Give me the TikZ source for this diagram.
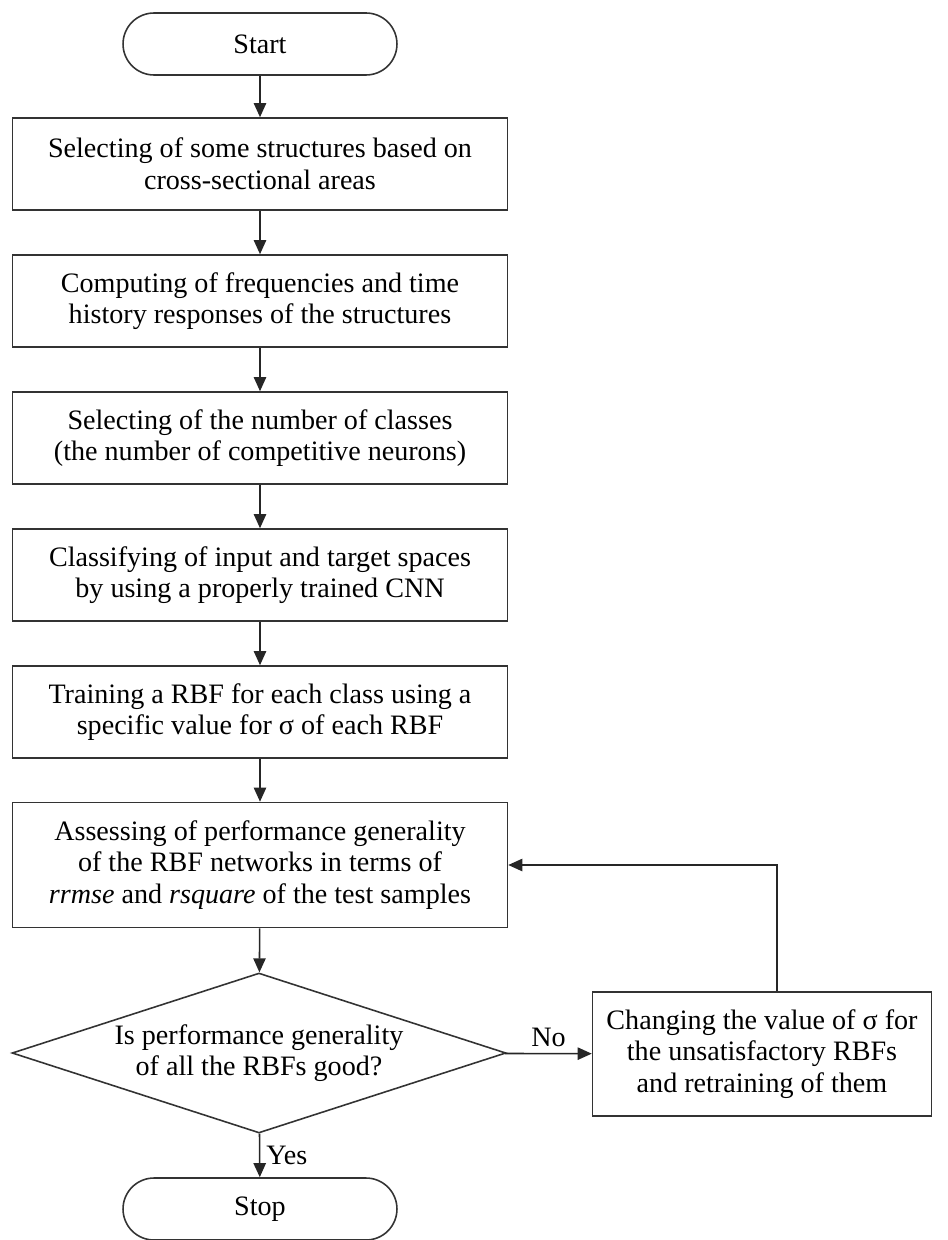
\documentclass[tikz,border=0pt]{standalone}
\usepackage{fontspec}
\setmainfont{Liberation Serif}
\usetikzlibrary{shapes,arrows.meta,positioning}

\begin{document}
\begin{tikzpicture}[x=0.02cm,y=-0.02cm,
	every node/.style={font=\fontsize{16}{18}\selectfont},
	term/.style={draw=black!80, line width=0.9pt, rectangle, rounded corners=0.62cm, minimum width=5.48cm, minimum height=1.24cm},
	proc/.style={draw=black!80, line width=0.9pt, rectangle, align=center, minimum width=9.9cm, minimum height=1.84cm},
	decide/.style={draw=black!80, line width=0.9pt, diamond, aspect=3.09, align=center, inner sep=0pt, minimum width=9.88cm, minimum height=3.2cm},
	flow/.style={draw=black!85, line width=0.9pt, -{Triangle[length=8pt,width=7pt]}}]
			\useasboundingbox (0,0) rectangle (947,1240);
			\node[term] (start) at (260,44) {Start};
			\node[proc] (sel) at (260,164) {Selecting of some structures based on\\cross-sectional areas};
			\node[proc] (comp) at (260,301) {Computing of frequencies and time\\history responses of the structures};
			\node[proc] (classes) at (260,438) {Selecting of the number of classes\\(the number of competitive neurons)};
			\node[proc] (cnn) at (260,575) {Classifying of input and target spaces\\by using a properly trained CNN};
			\node[proc] (rbf) at (260,712) {Training a RBF for each class using a\\specific value for σ of each RBF};
			\node[proc, minimum height=2.5cm] (assess) at (260,865) {Assessing of performance generality\\of the RBF networks in terms of\\\textit{rrmse} and \textit{rsquare} of the test samples};
			\node[decide] (good) at (259,1053) {Is performance generality\\of all the RBFs good?};
			\node[proc, minimum width=6.78cm, minimum height=2.48cm] (change) at (762,1054) {Changing the value of σ for\\the unsatisfactory RBFs\\and retraining of them};
			\node[term] (stop) at (260,1209) {Stop};
			\draw[flow] (start) -- (sel);
			\draw[flow] (sel) -- (comp);
			\draw[flow] (comp) -- (classes);
			\draw[flow] (classes) -- (cnn);
			\draw[flow] (cnn) -- (rbf);
			\draw[flow] (rbf) -- (assess);
			\draw[flow] (assess) -- (good);
			\draw[flow] (good) -- node[above] {No} (change);
			\draw[flow] (good) -- node[right] {Yes} (stop);
			\draw[flow] ([xshift=0.3cm]change.north) |- (assess.east);
		\end{tikzpicture}
\end{document}
